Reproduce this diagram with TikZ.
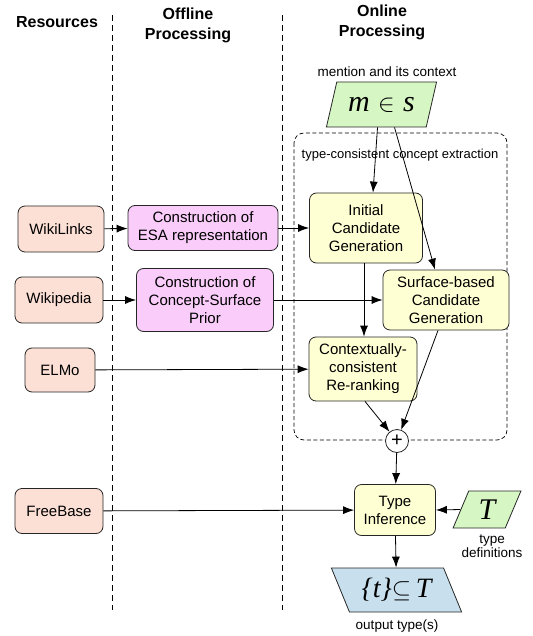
\documentclass[tikz,border=0pt]{standalone}
\usepackage{fontspec}
\setmainfont{Liberation Sans}
\newfontfamily\serifit{Liberation Serif}
\usetikzlibrary{arrows.meta}
\usetikzlibrary{shapes.geometric,calc}
\definecolor{resfill}{RGB}{252,224,214}
\definecolor{offfill}{RGB}{249,204,249}
\definecolor{onfill}{RGB}{255,255,212}
\definecolor{infill}{RGB}{214,247,196}
\definecolor{outfill}{RGB}{200,224,238}
\tikzset{
    box/.style={
        draw=black!85,
        line width=0.8pt,
        rounded corners=7pt,
        align=center,
        inner sep=0pt,
        font=\fontsize{15}{18}\selectfont
    },
    resource/.style={box, fill=resfill},
    offline/.style={box, fill=offfill},
    online/.style={box, fill=onfill},
    datum/.style={
        draw=black!85,
        line width=0.8pt,
        trapezium,
        trapezium stretches=true,
        inner sep=0pt
    },
    heading/.style={font=\bfseries\fontsize{16}{20}\selectfont, align=center},
    caption/.style={font=\fontsize{13.5}{14}\selectfont, align=center},
    link/.style={draw, -{Latex[length=11pt,width=8pt]}, line width=0.8pt}
}

\begin{document}
\begin{tikzpicture}[x=1pt, y=-1pt]
    \useasboundingbox (0,0) rectangle (532,636);

    % Headings and separators
    \node[heading] (hres) at (57,22) {Resources};
    \node[heading] (hoff) at (188,25) {Offline\\Processing};
    \node[heading] (hon) at (382,22) {Online\\Processing};
    \draw[dashed, dash pattern=on 6pt off 4pt, line width=0.7pt] (112,15) -- (112,610);
    \draw[dashed, dash pattern=on 6pt off 4pt, line width=0.7pt] (282,15) -- (282,610);

    % Extraction block
    \draw[dashed, dash pattern=on 4pt off 2.5pt, line width=0.7pt, rounded corners=10pt]
        (294,133) rectangle (507,440);
    \node[caption, font=\fontsize{13}{14}\selectfont] (hext) at (400,155) {type-consistent concept extraction};

    % Resources
    \node[resource, minimum width=86pt, minimum height=46pt] (wl) at (61,229) {WikiLinks};
    \node[resource, minimum width=88pt, minimum height=46pt] (wp) at (59,300) {Wikipedia};
    \node[resource, minimum width=70pt, minimum height=44pt] (elmo) at (60,370) {ELMo};
    \node[resource, minimum width=88pt, minimum height=45pt] (fb) at (59,511) {FreeBase};

    % Offline processing
    \node[offline, minimum width=150pt, minimum height=45pt] (esa) at (203,228) {Construction of\\ESA representation};
    \node[offline, minimum width=137pt, minimum height=63pt] (prior) at (205,300) {Construction of\\Concept-Surface\\Prior};

    % Online processing
    \node[caption] (lmen) at (387,72) {mention and its context};
    \node[datum, fill=infill, trapezium left angle=63, trapezium right angle=117,
        minimum width=111pt, minimum height=45pt] (mes) at (381.5,104.5)
        {\fontsize{30}{30}\selectfont{\serifit\itshape m}\;$\in$\;{\serifit\itshape s}};
    \node[online, minimum width=113pt, minimum height=70pt] (init) at (366,228) {Initial\\Candidate\\Generation};
    \node[online, minimum width=126pt, minimum height=60pt] (surf) at (446,300) {Surface-based\\Candidate\\Generation};
    \node[online, minimum width=108pt, minimum height=64pt] (ctx) at (363,369) {Contextually-\\consistent\\Re-ranking};
    \node[draw=black!85, line width=0.8pt, circle, fill=white, minimum size=23pt, inner sep=0pt,
        font=\fontsize{20}{20}\selectfont] (plus) at (397,441) {+};
    \node[online, minimum width=81pt, minimum height=51pt] (ti) at (395,510) {Type\\Inference};
    \node[datum, fill=infill, trapezium left angle=70, trapezium right angle=110,
        minimum width=68pt, minimum height=37pt] (tdef) at (487,509.5)
        {\fontsize{30}{30}\selectfont\serifit\itshape T};
    \node[caption] (ltdef) at (492,546) {type\\definitions};
    \node[datum, fill=outfill, trapezium left angle=120, trapezium right angle=60,
        minimum width=131pt, minimum height=44pt] (out) at (396.5,590)
        {\fontsize{28}{30}\selectfont{\serifit\itshape\{t\}}$\subseteq$\,{\serifit\itshape T}};
    \node[caption] (lout) at (397,626) {output type(s)};

    % Edges
    \draw[link] (wl) -- (esa);
    \draw[link] (esa) -- (init);
    \draw[link] (wp) -- (prior);
    \draw[link] (prior) -- (surf);
    \draw[link] (elmo) -- (ctx);
    \draw[link] (fb) -- (ti);
    \draw[link] ([xshift=-4pt]mes.south) -- ([xshift=7pt]init.north);
    \draw[link] ([xshift=13pt]mes.south) -- ([xshift=-11pt]surf.north);
    \draw[link] ([xshift=-2pt]init.south) -- ([xshift=1pt]ctx.north);
    \draw[link] ([xshift=2pt]ctx.south) -- (plus);
    \draw[link] ([xshift=-8pt]surf.south) -- (plus);
    \draw[link] (plus) -- (ti);
    \draw[link] (tdef.west) -- (ti.east);
    \draw[link] (ti) -- (out);
\end{tikzpicture}
\end{document}
